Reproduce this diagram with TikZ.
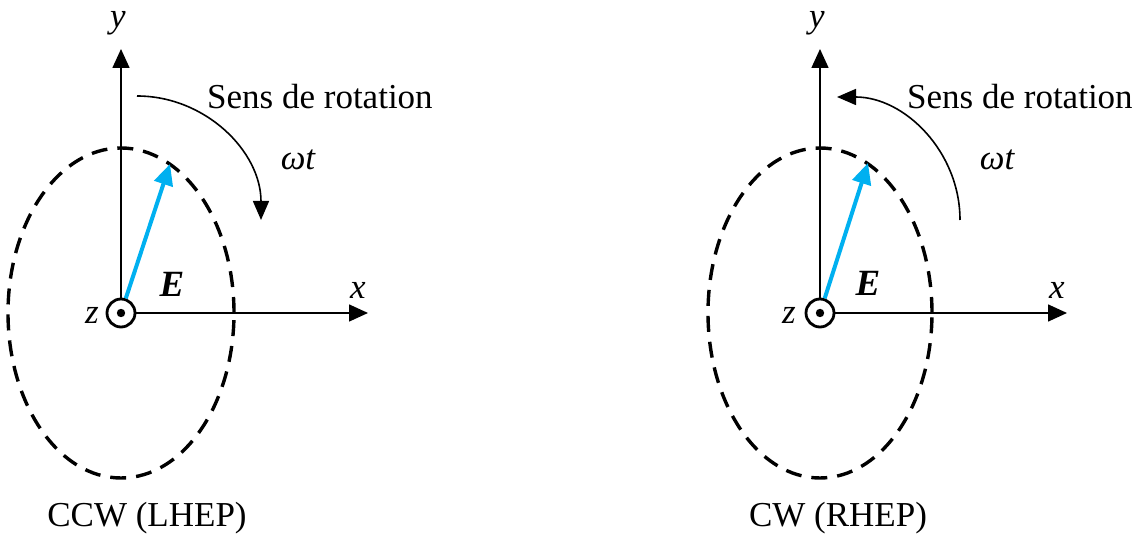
\documentclass[tikz,border=0pt]{standalone}
\usepackage{fontspec}
\setmainfont{Liberation Serif}
\usetikzlibrary{arrows.meta}
\definecolor{fieldblue}{RGB}{0,176,240}

\begin{document}
\begin{tikzpicture}[
  x=1pt, y=1pt,
  every node/.style={font=\fontsize{35}{40}\selectfont, inner sep=0pt},
  origin/.style={draw, circle, line width=2.8pt, minimum size=28pt, inner sep=0pt},
  axis/.style={-{Triangle[length=19pt,width=17pt]}, line width=1.6pt},
  field/.style={-{Triangle[length=21pt,width=19pt]}, line width=4pt, draw=fieldblue, fill=fieldblue},
  orbit/.style={line width=3.4pt, dash pattern=on 16pt off 10pt},
  rot/.style={-{Triangle[length=19pt,width=16pt]}, line width=1.6pt},
  axlabel/.style={font=\fontsize{35}{40}\selectfont\itshape},
  vec/.style={font=\fontsize{37}{40}\selectfont\bfseries\itshape}
]
\useasboundingbox (0,0) rectangle (1144,535);

% CCW (LHEP)
\node[origin] (o1) at (121,222) {};
\fill (o1.center) circle (4.2);
\coordinate (ytip1) at (121,486);
\coordinate (xtip1) at (368,222);
\coordinate (etip1) at (170,371);
\coordinate (rot1) at (137,439);
\draw[orbit] (o1.center) ellipse [x radius=113, y radius=165];
\draw[axis] (o1) -- (ytip1);
\draw[axis] (o1) -- (xtip1);
\draw[field] (o1) -- (etip1);
\draw[rot] (rot1) arc[start angle=90, end angle=0, radius=124];
\node[axlabel] (ylab1) at (118,512) {y};
\node[axlabel] (xlab1) at (358,245) {x};
\node[axlabel] (zlab1) at (92,220) {z};
\node[vec] (elab1) at (172,251) {E};
\node[axlabel] (wt1) at (298,375) {ωt};
\node[anchor=base west] (sens1) at (207,426) {Sens de rotation};
\node[anchor=base] (mode1) at (147,8) {CCW (LHEP)};

% CW (RHEP)
\node[origin] (o2) at (820,222) {};
\fill (o2.center) circle (4.2);
\coordinate (ytip2) at (820,486);
\coordinate (xtip2) at (1067,222);
\coordinate (etip2) at (868,372);
\coordinate (rot2) at (960,315);
\draw[orbit] (o2.center) ellipse [x radius=112, y radius=165];
\draw[axis] (o2) -- (ytip2);
\draw[axis] (o2) -- (xtip2);
\draw[field] (o2) -- (etip2);
\draw[rot] (rot2) arc[start angle=0, end angle=90, radius=123];
\node[axlabel] (ylab2) at (817,512) {y};
\node[axlabel] (xlab2) at (1057,245) {x};
\node[axlabel] (zlab2) at (789,220) {z};
\node[vec] (elab2) at (868,252) {E};
\node[axlabel] (wt2) at (997,375) {ωt};
\node[anchor=base west] (sens2) at (907,426) {Sens de rotation};
\node[anchor=base] (mode2) at (838,8) {CW (RHEP)};
\end{tikzpicture}
\end{document}
